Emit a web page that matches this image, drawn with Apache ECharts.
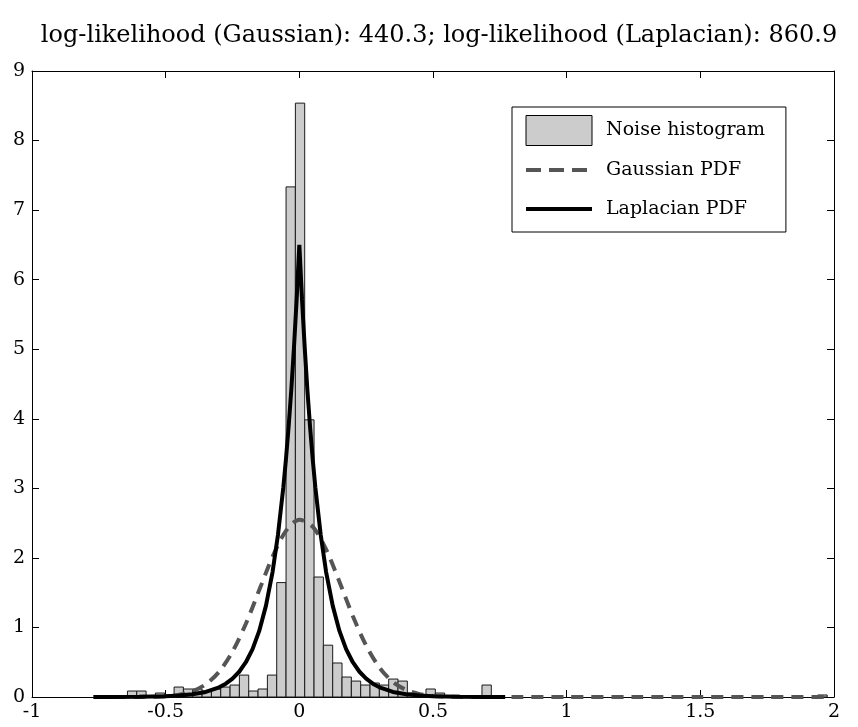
<!DOCTYPE html>
<html>
<head>
<meta charset="utf-8">
<script src="https://cdn.jsdelivr.net/npm/echarts@6/dist/echarts.min.js"></script>
<style>html,body{margin:0;padding:0;background:#fff;}#c{width:858px;height:727px;}</style>
</head>
<body>
<div id="c"></div>
<script>
// ---- data ----
const titleText = 'log-likelihood (Gaussian): 440.3; log-likelihood (Laplacian): 860.9';
const xTicks = [-1, -0.5, 0, 0.5, 1, 1.5, 2];
const yTicks = [0, 1, 2, 3, 4, 5, 6, 7, 8, 9];

// histogram: first bin edge, bin width, density per bin
const binFirstEdge = -0.643;
const binWidth = 0.0349;
const binDensity = [
  0.086, 0.086, 0, 0.057, 0.029, 0.143, 0.115, 0.115, 0.086, 0.115,
  0.143, 0.172, 0.315, 0.086, 0.115, 0.315, 1.645, 7.334, 8.538, 3.985,
  1.725, 0.745, 0.489, 0.287, 0.229, 0.172, 0.201, 0.172, 0.258, 0.229,
  0.057, 0.029, 0.115, 0.057, 0, 0, 0, 0, 0.172, 0,
  0, 0, 0, 0, 0, 0, 0, 0, 0, 0,
  0, 0, 0, 0, 0, 0, 0, 0, 0, 0,
  0, 0, 0, 0, 0, 0, 0, 0, 0, 0,
  0, 0, 0, 0, 0.029
];

// Gaussian PDF curve (read points)
const gaussX = [-0.77,-0.7,-0.6,-0.55,-0.5,-0.45,-0.4,-0.35,-0.3,-0.25,-0.2,-0.15,-0.1,-0.05,0,0.05,0.1,0.15,0.2,0.25,0.3,0.35,0.4,0.45,0.5,0.55,0.6,0.7,0.8,1.0,1.25,1.5,1.75,1.98];
const gaussY = [0,0,0.001,0.004,0.012,0.034,0.083,0.183,0.363,0.652,1.054,1.537,2.018,2.389,2.548,2.449,2.122,1.656,1.165,0.739,0.422,0.217,0.101,0.042,0.016,0.005,0.002,0,0,0,0,0,0,0];

// Laplacian PDF curve (read points)
const lapX = [-0.77,-0.7,-0.6,-0.5,-0.45,-0.4,-0.35,-0.3,-0.275,-0.25,-0.225,-0.2,-0.175,-0.15,-0.125,-0.1,-0.08,-0.06,-0.05,-0.04,-0.03,-0.02,-0.01,0,0.01,0.02,0.03,0.04,0.05,0.06,0.08,0.1,0.125,0.15,0.175,0.2,0.225,0.25,0.275,0.3,0.35,0.4,0.45,0.5,0.6,0.7,0.77];
const lapY = [0,0.001,0.003,0.011,0.02,0.039,0.073,0.139,0.192,0.264,0.363,0.5,0.689,0.95,1.31,1.8,2.33,3.01,3.42,3.89,4.42,5.03,5.72,6.5,5.72,5.03,4.42,3.89,3.42,3.01,2.33,1.8,1.31,0.95,0.689,0.5,0.363,0.264,0.192,0.139,0.073,0.039,0.02,0.011,0.003,0.001,0];

// ---- build ----
const histData = binDensity.map((d, i) => [binFirstEdge + i * binWidth, binFirstEdge + (i + 1) * binWidth, d]);
const gaussData = gaussX.map((x, i) => [x, gaussY[i]]);
const lapData = lapX.map((x, i) => [x, lapY[i]]);

const serif = 'DejaVu Serif';
const chart = echarts.init(document.getElementById('c'), null, {renderer: 'canvas'});

const axisCommon = {
  axisLine: {show: true, onZero: false, lineStyle: {color: '#000', width: 1}},
  axisTick: {show: true, inside: true, length: 7, lineStyle: {color: '#000'}},
  splitLine: {show: false}
};

chart.setOption({
  animation: false,
  backgroundColor: '#fff',
  title: {
    text: titleText,
    left: 434,
    textAlign: 'center',
    top: 19,
    textStyle: {fontFamily: serif, fontSize: 24, fontWeight: 'normal', color: '#000'}
  },
  grid: {left: 32, top: 71, width: 802, height: 626, containLabel: false},
  xAxis: [
    Object.assign({type: 'value', min: -1, max: 2, interval: 0.5, position: 'bottom',
      axisLabel: {color: '#000', fontFamily: serif, fontSize: 19, margin: 6}}, axisCommon),
    Object.assign({type: 'value', min: -1, max: 2, interval: 0.5, position: 'top',
      axisLabel: {show: false}}, axisCommon)
  ],
  yAxis: [
    Object.assign({type: 'value', min: 0, max: 9, interval: 1, position: 'left',
      axisLabel: {color: '#000', fontFamily: serif, fontSize: 19, margin: 7}}, axisCommon),
    Object.assign({type: 'value', min: 0, max: 9, interval: 1, position: 'right',
      axisLabel: {show: false}}, axisCommon)
  ],
  legend: {
    orient: 'vertical',
    left: 512,
    top: 107,
    padding: [8, 21, 8, 12],
    itemWidth: 66,
    itemHeight: 30,
    itemGap: 9,
    borderColor: '#000',
    borderWidth: 1,
    backgroundColor: '#fff',
    textStyle: {fontFamily: serif, fontSize: 19, color: '#000', lineHeight: 20, padding: [10, 0, 0, 9]},
    data: [
      {name: 'Noise histogram', icon: 'rect', itemStyle: {color: '#cccccc', borderColor: '#000', borderWidth: 1}},
      {name: 'Gaussian PDF', itemStyle: {opacity: 0}, lineStyle: {width: 4, color: '#555555', type: [15, 8]}},
      {name: 'Laplacian PDF', itemStyle: {opacity: 0}, lineStyle: {width: 4, color: '#000'}}
    ]
  },
  series: [
    {
      name: 'Noise histogram',
      type: 'custom',
      xAxisIndex: 0, yAxisIndex: 0,
      itemStyle: {color: '#cccccc', borderColor: '#000', borderWidth: 1},
      encode: {x: [0, 1], y: 2},
      data: histData,
      renderItem: function (params, api) {
        const h = api.value(2);
        if (!h) return null;
        const p0 = api.coord([api.value(0), h]);
        const p1 = api.coord([api.value(1), 0]);
        return {
          type: 'rect',
          shape: {x: p0[0], y: p0[1], width: p1[0] - p0[0], height: p1[1] - p0[1]},
          style: {fill: '#cccccc', stroke: '#1a1a1a', lineWidth: 1}
        };
      },
      z: 1
    },
    {
      name: 'Gaussian PDF',
      type: 'line',
      data: gaussData,
      symbol: 'none',
      smooth: 0.3,
      lineStyle: {color: '#555555', width: 4, type: [12, 8]},
      itemStyle: {color: '#555555'},
      z: 2
    },
    {
      name: 'Laplacian PDF',
      type: 'line',
      data: lapData,
      symbol: 'none',
      smooth: false,
      lineStyle: {color: '#000', width: 4},
      itemStyle: {color: '#000'},
      z: 3
    }
  ]
});
</script>
</body>
</html>
